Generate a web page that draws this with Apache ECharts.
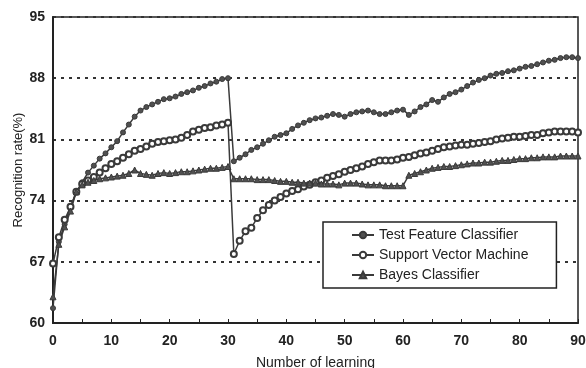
<!DOCTYPE html>
<html>
<head>
<meta charset="utf-8">
<script src="https://cdn.jsdelivr.net/npm/echarts@6/dist/echarts.min.js"></script>
<style>html,body{margin:0;padding:0;background:#fff;}#c{width:586px;height:368px;}</style>
</head>
<body>
<div id="c"></div>
<script>
var learning = [];
for (var i = 0; i <= 90; i++) learning.push(i);

var tfc = [61.7,69.3,71.3,73.2,75.0,76.1,77.2,78.0,78.8,79.4,
  80.1,80.8,81.8,82.7,83.6,84.3,84.7,85.0,85.3,85.6,
  85.7,85.9,86.2,86.4,86.6,86.9,87.1,87.4,87.6,87.9,
  88.0,78.5,78.9,79.3,79.8,80.1,80.5,80.9,81.3,81.5,
  81.7,82.2,82.6,82.9,83.2,83.4,83.5,83.7,83.9,83.8,
  83.6,83.9,84.1,84.2,84.3,84.1,83.9,83.9,84.1,84.3,
  84.4,83.8,84.2,84.7,85.0,85.5,85.3,85.8,86.2,86.4,
  86.7,87.1,87.5,87.8,88.0,88.3,88.5,88.6,88.8,88.9,
  89.1,89.3,89.4,89.6,89.8,90.0,90.1,90.3,90.4,90.4,90.3];

var svm = [66.8,69.8,71.8,73.3,75.0,75.9,76.3,76.7,77.2,77.7,
  78.2,78.5,78.9,79.3,79.7,79.9,80.2,80.5,80.7,80.8,
  80.9,81.0,81.2,81.5,81.9,82.1,82.3,82.4,82.6,82.7,
  82.9,67.9,69.4,70.5,70.9,72.0,72.9,73.5,74.0,74.4,
  74.8,75.1,75.3,75.6,75.8,76.1,76.3,76.6,76.8,77.0,
  77.3,77.5,77.7,77.9,78.2,78.4,78.6,78.6,78.6,78.7,
  78.9,79.0,79.2,79.4,79.5,79.7,79.9,80.1,80.2,80.3,
  80.4,80.4,80.5,80.6,80.7,80.8,81.0,81.1,81.2,81.3,
  81.3,81.4,81.5,81.5,81.7,81.8,81.9,81.9,81.9,81.9,81.8];

var bayes = [63.0,69.0,71.0,72.8,75.0,75.8,76.1,76.3,76.5,76.6,
  76.7,76.8,76.9,77.1,77.5,77.1,77.0,76.9,77.1,77.2,
  77.1,77.2,77.3,77.3,77.4,77.5,77.6,77.7,77.7,77.8,
  77.9,76.5,76.5,76.5,76.5,76.4,76.4,76.4,76.3,76.2,
  76.2,76.1,76.1,76.0,76.0,76.0,75.9,75.9,75.9,75.8,
  76.0,76.0,76.0,75.9,75.8,75.8,75.8,75.7,75.7,75.7,
  75.7,76.9,77.1,77.3,77.5,77.7,77.8,77.9,77.9,78.0,
  78.1,78.2,78.3,78.3,78.4,78.4,78.5,78.6,78.6,78.7,
  78.8,78.8,78.9,78.9,79.0,79.0,79.0,79.1,79.1,79.1,79.1];

var seriesNames = ['Test Feature Classifier','Support Vector Machine','Bayes Classifier'];
var yTicks = [60,67,74,81,88,95];

function pairs(arr){ return learning.map(function(x,i){ return [x, arr[i]]; }); }

var font = 'Liberation Sans, Arial, sans-serif';
var chart = echarts.init(document.getElementById('c'));
chart.setOption({
  animation: false,
  backgroundColor: '#fff',
  grid: {left: 53, right: 8, top: 17, bottom: 45, show: true, borderColor: '#222', borderWidth: 1.5,
    outerBoundsMode: 'none', containLabel: false},
  xAxis: {
    type: 'value', min: 0, max: 90, interval: 10,
    name: 'Number of learning', nameLocation: 'middle', nameGap: 33,
    nameTextStyle: {fontFamily: font, fontSize: 14, color: '#222'},
    axisLine: {show: true, lineStyle: {color: '#222', width: 2}},
    axisTick: {show: true, inside: true, length: 4, lineStyle: {color: '#222'}},
    minorTick: {show: true, splitNumber: 2, length: 4, lineStyle: {color: '#222'}},
    axisLabel: {fontFamily: font, fontSize: 14, fontWeight: 'bold', color: '#222', margin: 11},
    splitLine: {show: false}
  },
  yAxis: {
    type: 'value', min: 60, max: 95, interval: 7,
    name: 'Recognition rate(%)', nameLocation: 'middle', nameGap: 28, nameRotate: 90,
    nameMoveOverlap: false,
    nameTextStyle: {fontFamily: font, fontSize: 13, color: '#222'},
    axisLine: {show: true, lineStyle: {color: '#222', width: 2}},
    axisTick: {show: false},
    axisLabel: {fontFamily: font, fontSize: 14, fontWeight: 'bold', color: '#222', margin: 8,
      formatter: function(v){ return yTicks.indexOf(v) >= 0 ? String(v) : ''; }},
    splitLine: {show: true, lineStyle: {color: '#333', width: 2, type: [3, 5]}}
  },
  legend: {
    orient: 'vertical', left: 323, top: 222,
    backgroundColor: '#fff', borderColor: '#222', borderWidth: 1.5,
    padding: [6, 28, 6, 28], itemGap: 6, itemWidth: 22, itemHeight: 8,
    textStyle: {fontFamily: font, fontSize: 14, color: '#222'},
    data: seriesNames
  },
  series: [
    {name: seriesNames[0], type: 'line', data: pairs(tfc), symbol: 'circle', symbolSize: 5,
      lineStyle: {color: '#3a3a3a', width: 1.5}, itemStyle: {color: '#505050', borderColor: '#3a3a3a', borderWidth: 1}},
    {name: seriesNames[1], type: 'line', data: pairs(svm), symbol: 'emptyCircle', symbolSize: 6,
      lineStyle: {color: '#3a3a3a', width: 1.5}, itemStyle: {color: '#3a3a3a', borderWidth: 1.2}},
    {name: seriesNames[2], type: 'line', data: pairs(bayes), symbol: 'triangle', symbolSize: 6,
      lineStyle: {color: '#3a3a3a', width: 1.5}, itemStyle: {color: '#505050', borderColor: '#3a3a3a', borderWidth: 1}}
  ]
});
</script>
</body>
</html>
